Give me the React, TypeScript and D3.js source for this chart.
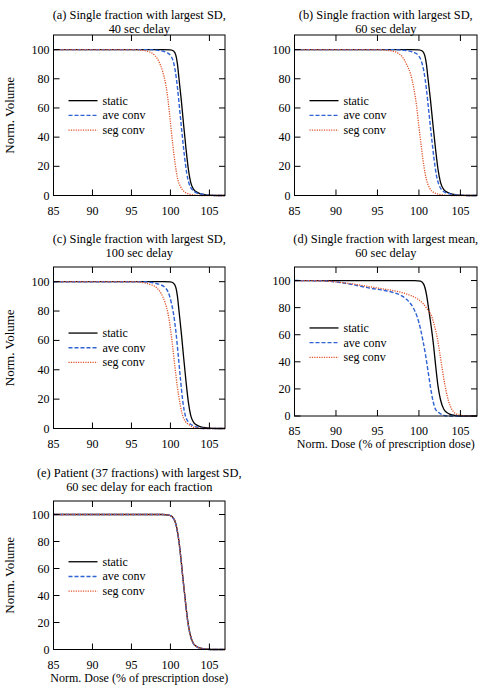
import React from "react";
import * as d3 from "d3";

// ---------- data ----------
const xTicks = [85, 90, 95, 100, 105];
const yTicks = [0, 20, 40, 60, 80, 100];
const seriesNames = ["static", "ave conv", "seg conv"];

const titlesA = ["(a) Single fraction with largest SD,", "40 sec delay"];
const titlesB = ["(b) Single fraction with largest SD,", "60 sec delay"];
const titlesC = ["(c) Single fraction with largest SD,", "100 sec delay"];
const titlesD = ["(d) Single fraction with largest mean,", "60 sec delay"];
const titlesE = ["(e) Patient (37 fractions) with largest SD,", "60 sec delay for each fraction"];

const yLabel = "Norm. Volume";
const xLabel = "Norm. Dose (% of prescription dose)";

// static curve of the single fraction with largest SD (panels a, b, c)
const staticSD: [number, number][] = [
  [85, 100], [99, 100], [100, 99.8], [100.4, 99], [100.7, 96], [100.9, 90], [101.1, 80],
  [101.4, 65], [101.7, 48], [102.0, 32], [102.3, 18], [102.6, 9], [103.0, 4], [103.5, 2],
  [104, 1], [104.5, 0.5], [105, 0.2], [106, 0], [107, 0],
];

const aveA: [number, number][] = [
  [85, 100], [97, 100], [98, 99.7], [99, 99], [99.5, 98], [100, 96], [100.3, 93], [100.6, 86],
  [100.9, 74], [101.2, 58], [101.5, 42], [101.8, 27], [102.1, 15], [102.4, 8], [102.8, 4],
  [103.3, 2], [104, 1], [105, 0.3], [106, 0], [107, 0],
];
const segA: [number, number][] = [
  [85, 100], [95, 100], [96, 99.7], [97, 99], [97.5, 98], [98, 96], [98.5, 92], [99, 85],
  [99.4, 76], [99.7, 65], [100, 50], [100.3, 35], [100.6, 22], [100.9, 12], [101.3, 6],
  [101.8, 2.5], [102.4, 1], [103, 0.3], [104, 0], [107, 0],
];

const aveB: [number, number][] = [
  [85, 100], [97, 100], [98, 99.6], [99, 98.8], [99.5, 97.8], [100, 95.5], [100.3, 92], [100.6, 85],
  [100.9, 73], [101.2, 57], [101.5, 41], [101.8, 26], [102.1, 14], [102.4, 7.5], [102.8, 3.5],
  [103.3, 1.8], [104, 0.8], [105, 0.2], [106, 0], [107, 0],
];
const segB: [number, number][] = [
  [85, 100], [95, 100], [96, 99.6], [97, 98.8], [97.5, 97.5], [98, 95], [98.5, 90], [99, 83],
  [99.4, 73], [99.7, 62], [100, 47], [100.3, 33], [100.6, 20], [100.9, 11], [101.3, 5],
  [101.8, 2], [102.5, 0.8], [103, 0.3], [104, 0], [107, 0],
];

const aveC: [number, number][] = [
  [85, 100], [96.5, 100], [97.5, 99.5], [98.5, 98.3], [99.2, 96.5], [99.7, 93], [100.1, 86],
  [100.4, 78], [100.7, 66], [101.0, 50], [101.3, 33], [101.6, 18], [101.9, 9], [102.3, 4.5],
  [102.9, 2], [103.6, 0.7], [104.3, 0], [107, 0],
];
const segC: [number, number][] = [
  [85, 100], [95.5, 100], [96.5, 99.3], [97.5, 98], [98.2, 96], [98.8, 92], [99.3, 86],
  [99.7, 78], [100.0, 68], [100.3, 55], [100.6, 41], [100.9, 28], [101.2, 18], [101.5, 10],
  [101.9, 5], [102.4, 2.5], [102.9, 1], [103.5, 0.3], [104, 0], [107, 0],
];

const staticD: [number, number][] = [
  [85, 100], [99.5, 100], [100.2, 99.5], [100.6, 97], [100.9, 90], [101.2, 78], [101.5, 65],
  [101.8, 50], [102.0, 38], [102.3, 22], [102.6, 12], [103, 5], [103.5, 2], [104, 0.8],
  [105, 0], [107, 0],
];
const aveD: [number, number][] = [
  [85, 100], [88, 99.8], [90, 99], [92, 97], [94, 94.5], [96, 92.5], [97, 91], [98, 88.5],
  [98.7, 85], [99.3, 80], [99.8, 73], [100.2, 64], [100.5, 55], [100.8, 45], [101.1, 33],
  [101.4, 21], [101.7, 11], [102, 5], [102.5, 2], [103, 0.5], [103.5, 0], [107, 0],
];
const segD: [number, number][] = [
  [85, 100], [88, 99.8], [90, 99], [92, 97.5], [94, 95.5], [96, 93.5], [97, 92.5], [98, 91],
  [99, 89], [99.8, 86.5], [100.5, 83], [101, 79], [101.5, 74], [101.9, 66], [102.2, 58],
  [102.5, 47], [102.8, 35], [103.1, 24], [103.4, 15], [103.8, 7], [104.2, 3], [104.7, 1],
  [105.3, 0.3], [106, 0], [107, 0],
];

const staticE: [number, number][] = [
  [85, 100], [99, 100], [99.8, 99.6], [100.3, 98], [100.7, 93], [101.0, 84], [101.3, 70],
  [101.6, 53], [101.9, 37], [102.2, 22], [102.5, 12], [102.9, 5], [103.4, 2], [104, 0.8],
  [104.8, 0.2], [105.5, 0], [107, 0],
];
const aveE: [number, number][] = [
  [85, 100], [99, 100], [99.8, 99.5], [100.3, 97.8], [100.7, 92.5], [101.0, 83.5], [101.3, 69.5],
  [101.6, 52.5], [101.9, 36.5], [102.2, 21.5], [102.5, 11.5], [102.9, 4.8], [103.4, 1.9],
  [104, 0.7], [104.8, 0.2], [105.5, 0], [107, 0],
];
const segE: [number, number][] = [
  [85, 100], [99, 100], [99.8, 99.5], [100.3, 97.9], [100.7, 92.8], [101.0, 83.8], [101.3, 69.8],
  [101.6, 52.8], [101.9, 36.8], [102.2, 21.8], [102.5, 11.8], [102.9, 4.9], [103.4, 2],
  [104, 0.8], [104.8, 0.2], [105.5, 0], [107, 0],
];

// ---------- styles ----------
const COLORS = ["#000000", "#2f62d4", "#e0532a"];
const DASHES = ["none", "4,2", "1.2,1.2"];
const WIDTHS = [1.3, 1.4, 1.3];
const FONT = "Liberation Serif";

type Panel = {
  x0: number; x1: number; y0: number; y1: number;
  titles: string[]; titleY: number[];
  series: [number, number][][];
  showYLabel: boolean; showXLabel: boolean;
};

const panels: Panel[] = [
  { x0: 53.5, x1: 225, y0: 35, y1: 195.5, titles: titlesA, titleY: [14, 28], series: [staticSD, aveA, segA], showYLabel: true, showXLabel: false },
  { x0: 294.5, x1: 477, y0: 35, y1: 195.5, titles: titlesB, titleY: [14, 28], series: [staticSD, aveB, segB], showYLabel: false, showXLabel: false },
  { x0: 53.5, x1: 225, y0: 267, y1: 428.5, titles: titlesC, titleY: [238, 252], series: [staticSD, aveC, segC], showYLabel: true, showXLabel: false },
  { x0: 294.5, x1: 477, y0: 267, y1: 416, titles: titlesD, titleY: [238, 252], series: [staticD, aveD, segD], showYLabel: false, showXLabel: true },
  { x0: 53.5, x1: 225, y0: 501, y1: 649.5, titles: titlesE, titleY: [472, 486], series: [staticE, aveE, segE], showYLabel: true, showXLabel: true },
];

function PanelView({ p }: { p: Panel }) {
  const x = d3.scaleLinear().domain([85, 107]).range([p.x0, p.x1]);
  const y = d3.scaleLinear().domain([0, 110]).range([p.y1, p.y0]);
  const line = d3
    .line<[number, number]>()
    .x((d) => x(d[0]))
    .y((d) => y(d[1]))
    .curve(d3.curveMonotoneX);
  const cx = (p.x0 + p.x1) / 2;
  const cy = (p.y0 + p.y1) / 2;
  const T = 6;
  const legX = p.x0 + 15;
  const legY0 = y(65);
  const tf = { fontFamily: FONT };
  return (
    <g>
      {p.titles.map((t, i) => (
        <text key={i} x={cx} y={p.titleY[i] + 4.5} textAnchor="middle" fontSize={12.4} style={tf}>
          {t}
        </text>
      ))}
      {p.series.map((s, i) => (
        <path
          key={i}
          d={line(s) || ""}
          fill="none"
          stroke={COLORS[i]}
          strokeWidth={WIDTHS[i]}
          strokeDasharray={DASHES[i]}
        />
      ))}
      <rect x={p.x0} y={p.y0} width={p.x1 - p.x0} height={p.y1 - p.y0} fill="none" stroke="#000" strokeWidth={1} />
      {xTicks.map((t) => (
        <g key={"x" + t}>
          <line x1={x(t)} x2={x(t)} y1={p.y1} y2={p.y1 - T} stroke="#000" />
          <line x1={x(t)} x2={x(t)} y1={p.y0} y2={p.y0 + T} stroke="#000" />
          <text x={x(t)} y={p.y1 + 19} textAnchor="middle" fontSize={12} style={tf}>
            {t}
          </text>
        </g>
      ))}
      {yTicks.map((t) => (
        <g key={"y" + t}>
          <line x1={p.x0} x2={p.x0 + T} y1={y(t)} y2={y(t)} stroke="#000" />
          <line x1={p.x1} x2={p.x1 - T} y1={y(t)} y2={y(t)} stroke="#000" />
          <text x={p.x0 - 4} y={y(t) + 4} textAnchor="end" fontSize={12} style={tf}>
            {t}
          </text>
        </g>
      ))}
      {seriesNames.map((n, i) => (
        <g key={n}>
          <line
            x1={legX}
            x2={legX + 29}
            y1={legY0 + i * 14.7}
            y2={legY0 + i * 14.7}
            stroke={COLORS[i]}
            strokeWidth={WIDTHS[i]}
            strokeDasharray={DASHES[i]}
          />
          <text x={legX + 34} y={legY0 + i * 14.7 + 4} fontSize={12} style={tf}>
            {n}
          </text>
        </g>
      ))}
      {p.showYLabel && (
        <text
          transform={`translate(${14},${cy}) rotate(-90)`}
          textAnchor="middle"
          fontSize={13}
          style={tf}
        >
          {yLabel}
        </text>
      )}
      {p.showXLabel && (
        <text x={cx} y={p.y1 + 32} textAnchor="middle" fontSize={12} style={tf}>
          {xLabel}
        </text>
      )}
    </g>
  );
}

export default function App() {
  return (
    <svg
      width={480}
      height={686}
      viewBox="0 0 480 686"
      style={{ position: "absolute", left: 0, top: 0, background: "#fff" }}
    >
      <rect x={0} y={0} width={480} height={686} fill="#fff" />
      {panels.map((p, i) => (
        <PanelView key={i} p={p} />
      ))}
    </svg>
  );
}
